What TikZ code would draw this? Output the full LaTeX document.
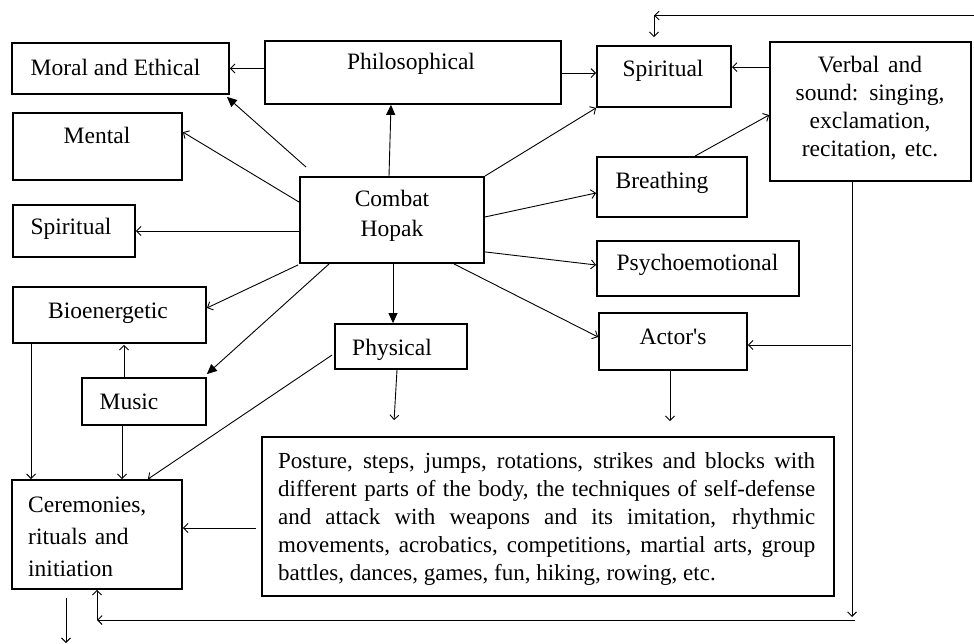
\documentclass[tikz,border=0pt]{standalone}
\usepackage{fontspec}
\setmainfont{Liberation Serif}
\usetikzlibrary{arrows.meta,calc}
\tikzset{
  box/.style={draw, line width=1.8pt, inner sep=0pt, fill=none},
  txt/.style={anchor=base, inner sep=0pt, font=\fontsize{23.5}{28}\selectfont},
  conn/.style={line width=0.9pt},
  oa/.style={conn, -{Straight Barb[length=4.5pt,width=9pt]}},
  fa/.style={conn, -{Triangle[length=10pt,width=9pt]}}
}
\begin{document}
\begin{tikzpicture}[x=1pt,y=-1pt]
\useasboundingbox (0,0) rectangle (974,644);
% boxes
\node[box, minimum width=217pt, minimum height=51pt] (moral) at (120.5,68.5) {};
\node[box, minimum width=296pt, minimum height=63pt] (philo) at (413,72.5) {};
\node[box, minimum width=169pt, minimum height=67pt] (mental) at (97.5,146.5) {};
\node[box, minimum width=122pt, minimum height=52pt] (spirL) at (74,231) {};
\node[box, minimum width=184pt, minimum height=86pt] (combat) at (392,220) {};
\node[box, minimum width=193pt, minimum height=56pt] (bio) at (109.5,315) {};
\node[box, minimum width=124pt, minimum height=47pt] (music) at (144,401.5) {};
\node[box, minimum width=132pt, minimum height=45pt] (phys) at (401,346.5) {};
\node[box, minimum width=170pt, minimum height=109pt] (cer) at (97,534.5) {};
\node[box, minimum width=572pt, minimum height=159pt] (big) at (548,516.5) {};
\node[box, minimum width=134pt, minimum height=61pt] (spirR) at (664,76.5) {};
\node[box, minimum width=201pt, minimum height=139pt] (verbal) at (870.5,111.5) {};
\node[box, minimum width=150pt, minimum height=60pt] (breath) at (672,187) {};
\node[box, minimum width=202pt, minimum height=55pt] (psycho) at (698,268.5) {};
\node[box, minimum width=148pt, minimum height=57pt] (actor) at (673,341.5) {};
% texts
\node[txt] (tMoral) at (115.5,76) {Moral and Ethical};
\node[txt] (tPhilo) at (411,70) {Philosophical};
\node[txt] (tMental) at (97,144) {Mental};
\node[txt] (tSpirL) at (71,235) {Spiritual};
\node[txt, text width=150pt, align=center, font=\fontsize{23.5}{30}\selectfont] (tCombat) at (392,207) {Combat\\Hopak};
\node[txt] (tBio) at (108,318) {Bioenergetic};
\node[txt] (tMusic) at (129,409) {Music};
\node[txt] (tPhys) at (392,355) {Physical};
\node[txt, anchor=base west, text width=160pt, align=left, font=\fontsize{23.5}{32}\selectfont] (tCer) at (28,512) {Ceremonies,\\rituals and\\initiation};
\node[txt, anchor=base west, text width=537pt, align=left, font=\fontsize{23}{28}\selectfont] (tBig) at (278,468) {%
\spaceskip=0pt\xspaceskip=0pt
\makebox[537pt][s]{Posture, steps, jumps, rotations, strikes and blocks with}\\
\makebox[537pt][s]{different parts of the body, the techniques of self-defense}\\
\makebox[537pt][s]{and attack with weapons and its imitation, rhythmic}\\
\makebox[537pt][s]{movements, acrobatics, competitions, martial arts, group}\\
battles, dances, games, fun, hiking, rowing, etc.};
\node[txt] (tSpirR) at (663,77) {Spiritual};
\node[txt, text width=200pt, align=center] (tVerbal) at (870,73) {\spaceskip=0pt\xspaceskip=0pt Verbal and\\sound: singing,\\exclamation,\\recitation, etc.};
\node[txt] (tBreath) at (662,189) {Breathing};
\node[txt] (tPsycho) at (697.5,271) {Psychoemotional};
\node[txt] (tActor) at (673,344) {Actor\textquotesingle s};
% free-end coordinates
\coordinate (fbR) at (974,15.5);
\coordinate (fbL) at (654,15.5);
\coordinate (vb) at (852,617);
\coordinate (va) at (851,345);
\coordinate (hbR) at (855,620);
\coordinate (hbL) at (97,620);
\coordinate (cd) at (66,643);
% connectors
\draw[oa] (philo.west |- moral.east) -- (moral.east);
\draw[fa] ($(combat.north west)+(7,-9)$) -- ($(moral.south east)+(-3,2)$);
\draw[fa] ($(combat.north)+(-3,0)$) -- ($(philo.south)+(-22,0)$);
\draw[oa] ($(combat.north west)+(0,26)$) -- ($(mental.north east)+(0,20)$);
\draw[oa] (combat.west |- spirL.east) -- (spirL.east);
\draw[oa] ($(combat.south west)+(-1,1)$) -- ($(bio.east)+(0,-7)$);
\draw[fa] ($(combat.south west)+(30,0)$) -- ($(music.north east)+(0,-3)$);
\draw[fa] ($(combat.south)+(1,0)$) -- ($(combat.south |- phys.north)+(1,0)$);
\draw[oa] (combat.north east) -- (spirR.south west);
\draw[oa] ($(combat.east)+(0,-3)$) -- ($(breath.west)+(0,6)$);
\draw[oa] ($(combat.south east)+(0,-12)$) -- ($(psycho.west)+(0,-3.5)$);
\draw[oa] ($(combat.south east)+(-31,0)$) -- ($(actor.west)+(0,-4.5)$);
\draw[oa] ($(breath.north)+(23,0)$) -- ($(verbal.west)+(0,3.5)$);
\draw[oa] ($(verbal.north west)+(0,26)$) -- ($(spirR.north east)+(0,22)$);
\draw[oa] ($(philo.north east)+(0,33)$) -- ($(spirR.north west)+(0,28)$);
\draw[oa] (fbR) -- (fbL);
\draw[oa] (fbL) -- ($(spirR.north)+(-10,-8)$);
\draw[oa] ($(verbal.south)+(-18.5,0)$) -- (vb);
\draw[oa] (va) -- ($(actor.east)+(0,3.5)$);
\draw[oa] (hbR) -- (hbL);
\draw[oa] (hbL) -- (hbL |- cer.south);
\draw[oa] ($(actor.south)+(-3,0)$) -- ($(big.north)+(122,-15)$);
\draw[oa] ($(phys.south)+(-4,0)$) -- ($(big.north west)+(133,-16)$);
\draw[oa] ($(phys.west)+(-2,8.5)$) -- ($(cer.north east)+(-35,0)$);
\draw[oa] ($(music.south)+(-22,0)$) -- ($(cer.north)+(25,0)$);
\draw[oa] ($(music.north)+(-20,0)$) -- ($(bio.south)+(14.5,1)$);
\draw[oa] ($(bio.south west)+(19,0)$) -- ($(cer.north west)+(20,0)$);
\draw[oa] ($(big.west)+(-5,11.5)$) -- ($(cer.east)+(0,-6.5)$);
\draw[oa] ($(cer.south)+(-31,8)$) -- (cd);
\end{tikzpicture}
\end{document}
